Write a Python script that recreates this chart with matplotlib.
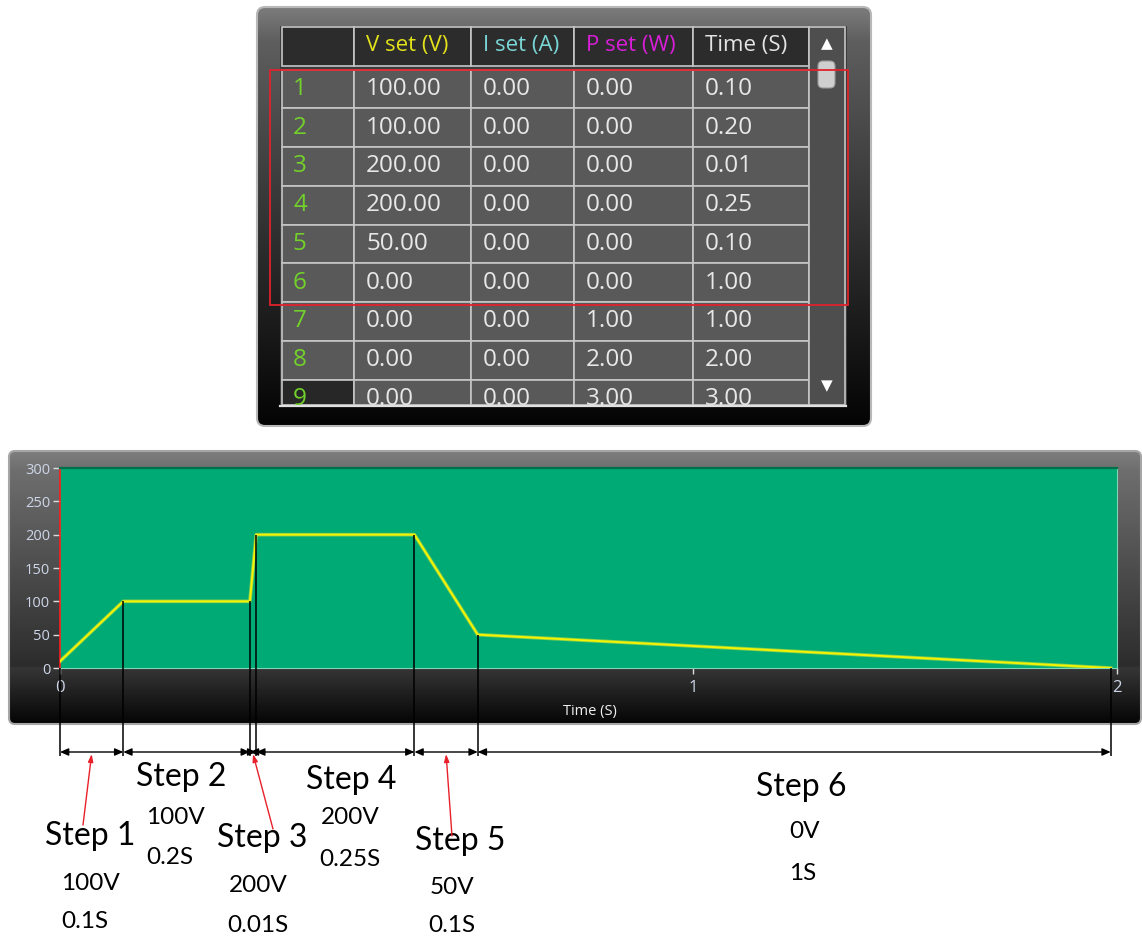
import matplotlib
matplotlib.use("Agg")
import matplotlib.pyplot as plt
import numpy as np
from matplotlib.patches import Rectangle, FancyBboxPatch
from matplotlib.colors import to_rgb
from matplotlib.transforms import Bbox, TransformedBbox

# ---- table data (sequence editor) ----
headers = ["V set (V)", "I set (A)", "P set (W)", "Time (S)"]
header_colors = ["#e2e21a", "#7ad6d6", "#d81ed8", "#e4e4e4"]
row_ids = [1, 2, 3, 4, 5, 6, 7, 8, 9]
v_set = [100.0, 100.0, 200.0, 200.0, 50.0, 0.0, 0.0, 0.0, 0.0]
i_set = [0.0, 0.0, 0.0, 0.0, 0.0, 0.0, 0.0, 0.0, 0.0]
p_set = [0.0, 0.0, 0.0, 0.0, 0.0, 0.0, 1.0, 2.0, 3.0]
t_set = [0.10, 0.20, 0.01, 0.25, 0.10, 1.00, 1.00, 2.00, 3.00]

# ---- chart data: the 6 steps that run ----
n_steps = 6
start_v = 10.0
step_v = v_set[:n_steps]
step_t = t_set[:n_steps]
curve_t = np.concatenate([[0.0], np.cumsum(step_t)])
curve_v = np.array([start_v] + step_v)
line_top = np.array([0.0] + step_v)
y_ticks = [0, 50, 100, 150, 200, 250, 300]
x_ticks = [0, 1, 2]
XMAX = 1.67

W, H = 1142, 939
fig = plt.figure(figsize=(W / 100, H / 100), dpi=100)
bg = fig.add_axes([0, 0, 1, 1])
bg.set_xlim(0, W)
bg.set_ylim(H, 0)
bg.axis("off")


def grad_box(x0, y0, x1, y1, stops, radius, edge, lw):
    ys = np.linspace(0, 1, 200)
    pos = [s[0] for s in stops]
    cols = np.array([to_rgb(s[1]) for s in stops])
    arr = np.stack([np.interp(ys, pos, cols[:, k]) for k in range(3)], axis=1)
    patch = FancyBboxPatch((x0, y0), x1 - x0, y1 - y0,
                           boxstyle=f"round,pad=0,rounding_size={radius}",
                           facecolor="none", edgecolor=edge, lw=lw, zorder=2)
    bg.add_patch(patch)
    im = bg.imshow(arr[:, None, :], extent=(x0, x1, y1, y0), aspect="auto", zorder=1)
    im.set_clip_path(patch)


# ---------------- table panel ----------------
grad_box(257, 7, 871, 426, [(0, "#7c7c7c"), (0.08, "#5e5e5e"), (0.6, "#2a2a2a"), (1, "#040404")], 8, "#b8b8b8", 1.5)
bg.add_patch(Rectangle((280, 26), 567, 381, facecolor="#3c3c3c", edgecolor="none", zorder=3))

col_x = [282, 354, 471, 574, 693, 809]
head_top, head_bot = 27, 66
row_top = 69.5
row_h = 38.75
tab_bot = 405
grid_c = "#c6c6c6"
clip = TransformedBbox(Bbox([[282, 28], [845, tab_bot]]), bg.transData)

for c in range(5):
    bg.add_patch(Rectangle((col_x[c], head_top), col_x[c + 1] - col_x[c], head_bot - head_top,
                           facecolor="#2c2c2c", edgecolor=grid_c, lw=1.2, zorder=4))
for r in range(len(row_ids)):
    y0 = row_top + r * row_h
    hh = min(row_h, tab_bot - y0)
    for c in range(5):
        fc = "#595959"
        if c == 0 and r == len(row_ids) - 1:
            fc = "#272727"
        bg.add_patch(Rectangle((col_x[c], y0), col_x[c + 1] - col_x[c], hh,
                               facecolor=fc, edgecolor=grid_c, lw=1.2, zorder=4))
bg.plot([280, 846], [tab_bot + 0.5, tab_bot + 0.5], color="#e0e0e0", lw=1.6, zorder=6)

for c, (h, hc) in enumerate(zip(headers, header_colors)):
    bg.text(col_x[c + 1] + 12, 46, h, color=hc, fontsize=16, family="Open Sans",
            va="center", ha="left", zorder=7)

cols = [v_set, i_set, p_set, t_set]
for r, rid in enumerate(row_ids):
    yc = row_top + r * row_h + row_h / 2
    t = bg.text(col_x[0] + 11, yc, str(rid), color="#72d12a", fontsize=17.5,
                family="Open Sans", va="center", ha="left", zorder=7)
    t.set_clip_box(clip)
    for c in range(4):
        t = bg.text(col_x[c + 1] + 12, yc, f"{cols[c][r]:.2f}", color="#e8e8e8",
                    fontsize=17.5, family="Open Sans", va="center", ha="left", zorder=7)
        t.set_clip_box(clip)

# scrollbar
bg.add_patch(Rectangle((809, 27), 36, tab_bot - 27, facecolor="#4e4e4e", edgecolor=grid_c, lw=1.2, zorder=4))
bg.add_patch(FancyBboxPatch((818, 61), 17, 27, boxstyle="round,pad=0,rounding_size=5",
                            facecolor="#cfcfcf", edgecolor="#9a9a9a", lw=0.8, zorder=6))
bg.text(827, 44, "▲", color="white", fontsize=11, ha="center", va="center", zorder=7)
bg.text(827, 386, "▼", color="white", fontsize=11, ha="center", va="center", zorder=7)

# red highlight box
bg.add_patch(Rectangle((270, 70), 578, 235, facecolor="none", edgecolor="#e0222c", lw=1.3, zorder=8))

# ---------------- chart panel ----------------
grad_box(9, 451, 1141, 724,
         [(0, "#7e7e7e"), (0.07, "#6e6e6e"), (0.79, "#2c2c2c"), (0.795, "#363636"), (1, "#050505")],
         6, "#a6a6a6", 1.5)

ax_l, ax_r, ax_t, ax_b = 60, 1117, 468, 668
ax = fig.add_axes([ax_l / W, 1 - ax_b / H, (ax_r - ax_l) / W, (ax_b - ax_t) / H])
ax.set_facecolor("#00aa74")
ax.plot(curve_t, curve_v, color="#d6e43a", lw=2.6, alpha=0.6, zorder=3)
ax.plot(curve_t, curve_v, color="#f4f400", lw=1.4, zorder=4)
ax.set_xlim(0, XMAX)
ax.set_ylim(0, 300)
ax.set_yticks(y_ticks)
ax.set_xticks([0, 1, XMAX])
ax.set_xticklabels([str(v) for v in x_ticks])
ax.tick_params(axis="y", colors="#dcdcdc", labelcolor="#cdd6e8", labelsize=10.5,
               length=5, width=1, pad=2)
ax.tick_params(axis="x", colors="#dcdcdc", labelcolor="#cdd6e8", labelsize=12,
               length=4, width=1, pad=5)
for lab in ax.get_xticklabels() + ax.get_yticklabels():
    lab.set_family("Open Sans")
ax.spines["top"].set_color("#00704a")
ax.spines["top"].set_linewidth(1.6)
ax.spines["left"].set_color("#ff1c1c")
ax.spines["left"].set_linewidth(1.2)
ax.spines["bottom"].set_color("#7fd6b4")
ax.spines["right"].set_color("#7fd6b4")
bg.text(590, 712, "Time (S)", color="#eeeeee", fontsize=10.5, family="Open Sans",
        ha="center", va="center", zorder=5)

# px -> data y helper for the annotation strip under the chart
def py(p):
    return (ax_b - p) / (ax_b - ax_t) * 300

y_dim = py(752)
ax.vlines(curve_t, py(756), line_top, colors="black", lw=1.1, clip_on=False, zorder=6)
for i in range(n_steps):
    ax.annotate("", xy=(curve_t[i + 1], y_dim), xytext=(curve_t[i], y_dim),
                arrowprops=dict(arrowstyle="<|-|>,head_length=0.5,head_width=0.22",
                                color="black", lw=1, shrinkA=0, shrinkB=0),
                annotation_clip=False)

# red pointers for the short steps
red_steps = [0, 2, 4]
red_tails = [(83, 825), (273, 829), (452, 836)]
for s, (tx, ty) in zip(red_steps, red_tails):
    mid = (curve_t[s] + curve_t[s + 1]) / 2
    ax.annotate("", xy=(mid, py(754)), xycoords="data",
                xytext=(tx, H - ty), textcoords="figure pixels",
                arrowprops=dict(arrowstyle="-|>,head_length=0.45,head_width=0.15",
                                color="#e8202a", lw=1, shrinkA=0, shrinkB=0),
                annotation_clip=False)

# step labels
title_pos = [(90, 836), (181, 777), (262, 838), (351, 780), (460, 841), (801, 787)]
volt_pos = [(90, 883), (175, 817), (258, 886), (350, 818), (452, 887), (805, 832)]
time_pos = [(85, 922), (170, 858), (258, 926), (350, 859), (452, 926), (803, 874)]
for i in range(n_steps):
    bg.text(*title_pos[i], f"Step {i + 1}", fontsize=23, family="Lato", color="black",
            ha="center", va="center", zorder=9)
    bg.text(*volt_pos[i], f"{step_v[i]:g}V", fontsize=17.5, family="Lato", color="black",
            ha="center", va="center", zorder=9)
    bg.text(*time_pos[i], f"{step_t[i]:g}S", fontsize=17.5, family="Lato", color="black",
            ha="center", va="center", zorder=9)

fig.savefig("out.png", dpi=100)
